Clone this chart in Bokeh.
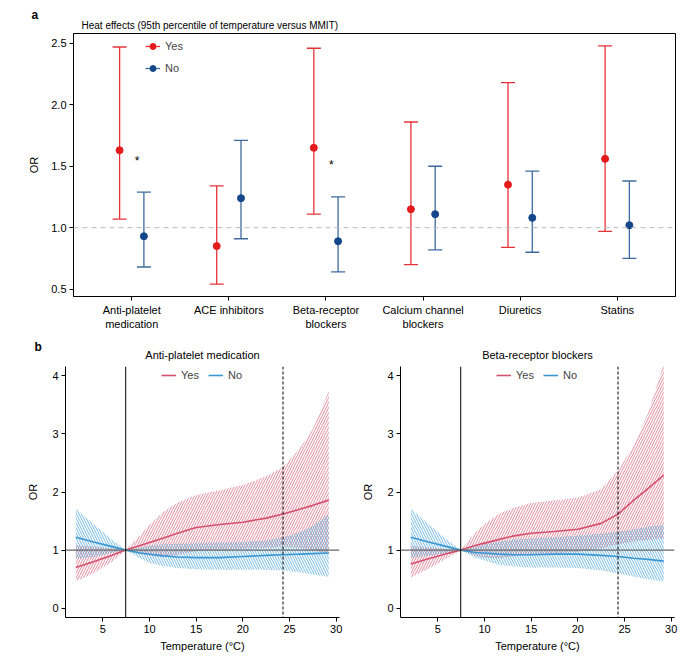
import numpy as np
from bokeh.plotting import figure
from bokeh.models import (Range1d, FixedTicker, Legend, LegendItem, Span, Title)
from bokeh.layouts import column, row
from bokeh.embed import file_html
from bokeh.resources import INLINE

FONT = "Liberation Sans"

# ---------------- Panel a data ----------------
drug_classes = ["Anti-platelet\nmedication", "ACE inhibitors", "Beta-receptor\nblockers",
                "Calcium channel\nblockers", "Diuretics", "Statins"]
yes_or = [1.63, 0.85, 1.65, 1.15, 1.35, 1.56]
yes_lower = [1.07, 0.54, 1.11, 0.70, 0.84, 0.97]
yes_upper = [2.47, 1.34, 2.46, 1.86, 2.18, 2.48]
no_or = [0.93, 1.24, 0.89, 1.11, 1.08, 1.02]
no_lower = [0.68, 0.91, 0.64, 0.82, 0.80, 0.75]
no_upper = [1.29, 1.71, 1.25, 1.50, 1.46, 1.38]
sig_index = [0, 2]
sig_y = [1.54, 1.51]
or_ticks_a = [0.5, 1.0, 1.5, 2.0, 2.5]
null_or = 1.0

# ---------------- Panel b data ----------------
temp = [2.1, 4, 6, 7.45, 9, 10, 11.5, 13, 15, 17.5, 20, 22.5, 24.3, 26, 27.5, 29.2]
mmit = 7.45
temp_p95 = 24.3
temp_ticks = [5, 10, 15, 20, 25, 30]
or_ticks_b = [0, 1, 2, 3, 4]

ap_yes = [0.70, 0.80, 0.91, 1.0, 1.08, 1.13, 1.21, 1.29, 1.39, 1.44, 1.48, 1.55, 1.62, 1.70, 1.77, 1.86]
ap_yes_lo = [0.46, 0.60, 0.80, 1.0, 0.93, 0.90, 0.88, 0.92, 0.98, 1.00, 1.02, 1.04, 1.06, 1.04, 1.00, 0.93]
ap_yes_hi = [1.08, 1.06, 1.03, 1.0, 1.26, 1.43, 1.66, 1.82, 1.95, 2.03, 2.12, 2.27, 2.43, 2.73, 3.08, 3.74]
ap_no = [1.22, 1.14, 1.06, 1.0, 0.95, 0.93, 0.90, 0.88, 0.87, 0.87, 0.89, 0.91, 0.92, 0.93, 0.94, 0.95]
ap_no_lo = [0.85, 0.88, 0.95, 1.0, 0.85, 0.78, 0.72, 0.69, 0.67, 0.66, 0.66, 0.66, 0.65, 0.62, 0.58, 0.54]
ap_no_hi = [1.71, 1.45, 1.18, 1.0, 1.05, 1.08, 1.10, 1.11, 1.12, 1.13, 1.14, 1.17, 1.22, 1.30, 1.42, 1.62]

bb_yes = [0.76, 0.85, 0.94, 1.0, 1.08, 1.12, 1.18, 1.24, 1.29, 1.32, 1.36, 1.46, 1.62, 1.86, 2.06, 2.29]
bb_yes_lo = [0.53, 0.68, 0.86, 1.0, 0.90, 0.87, 0.86, 0.89, 0.92, 0.94, 0.97, 1.03, 1.10, 1.15, 1.18, 1.20]
bb_yes_hi = [1.07, 1.05, 1.02, 1.0, 1.30, 1.45, 1.62, 1.72, 1.81, 1.86, 1.90, 2.05, 2.37, 2.80, 3.35, 4.20]
bb_no = [1.22, 1.14, 1.06, 1.0, 0.96, 0.95, 0.93, 0.92, 0.92, 0.93, 0.93, 0.91, 0.89, 0.86, 0.84, 0.81]
bb_no_lo = [0.87, 0.90, 0.95, 1.0, 0.87, 0.82, 0.75, 0.72, 0.70, 0.70, 0.69, 0.65, 0.60, 0.54, 0.50, 0.46]
bb_no_hi = [1.71, 1.45, 1.18, 1.0, 1.06, 1.10, 1.15, 1.18, 1.20, 1.22, 1.25, 1.28, 1.32, 1.36, 1.40, 1.43]

RED = "#E41A1C"
RED_BAR = "#E5333A"
BLUE = "#13478A"
BLUE_BAR = "#3E6A9E"
B_RED = "#D5506E"
B_RED_H = "#D6687F"
B_BLUE = "#3A97D4"
B_BLUE_H = "#4DA5D8"


def style_axes(p):
    for ax in p.axis:
        ax.major_label_text_font = FONT
        ax.major_label_text_font_size = "11px"
        ax.major_label_text_color = "black"
        ax.axis_label_text_font = FONT
        ax.axis_label_text_font_size = "11px"
        ax.axis_label_text_font_style = "normal"
        ax.axis_label_text_color = "black"
        ax.axis_line_color = "black"
        ax.major_tick_line_color = "black"
        ax.major_tick_out = 4
        ax.major_tick_in = 0
        ax.minor_tick_line_color = None
        ax.major_label_standoff = 3
    p.xgrid.visible = False
    p.ygrid.visible = False


# ---------------- Panel a ----------------
pa = figure(width=699, height=335, frame_width=602, frame_height=263,
            min_border_left=73, min_border_right=24, min_border_top=33, min_border_bottom=39,
            x_range=Range1d(0.4, 6.6), y_range=Range1d(0.44, 2.58),
            output_backend="svg", toolbar_location=None, tools="")
pa.outline_line_color = "black"
pa.outline_line_width = 1
style_axes(pa)

# panel letter (outermost) and panel heading (next to the frame)
pa.title = Title(text="a", align="left", offset=-42, standoff=-6, text_font=FONT,
                 text_font_size="12px", text_font_style="bold", text_color="black")
pa.add_layout(Title(text="Heat effects (95th percentile of temperature versus MMIT)",
                    align="left", vertical_align="top", offset=8, standoff=2, text_font=FONT,
                    text_font_size="10px", text_font_style="normal", text_color="black"), "above")

idx = np.arange(1, len(drug_classes) + 1)
x_yes = idx - 0.125
x_no = idx + 0.125

pa.add_layout(Span(location=null_or, dimension="width", line_color="#BBBBBB",
                   line_dash="5 4", line_width=1))

seg_yes = pa.segment(x0=x_yes, y0=yes_lower, x1=x_yes, y1=yes_upper, line_color=RED_BAR, line_width=1.3)
pa.scatter(x=x_yes, y=yes_upper, marker="dash", size=14, line_color=RED_BAR, line_width=1.3)
pa.scatter(x=x_yes, y=yes_lower, marker="dash", size=14, line_color=RED_BAR, line_width=1.3)
pt_yes = pa.scatter(x=x_yes, y=yes_or, marker="circle", size=7, fill_color=RED, line_color=RED)

seg_no = pa.segment(x0=x_no, y0=no_lower, x1=x_no, y1=no_upper, line_color=BLUE_BAR, line_width=1.3)
pa.scatter(x=x_no, y=no_upper, marker="dash", size=14, line_color=BLUE_BAR, line_width=1.3)
pa.scatter(x=x_no, y=no_lower, marker="dash", size=14, line_color=BLUE_BAR, line_width=1.3)
pt_no = pa.scatter(x=x_no, y=no_or, marker="circle", size=7, fill_color=BLUE, line_color=BLUE)

sig_x = [idx[i] + 0.055 for i in sig_index]
pa.text(x=sig_x, y=sig_y, text=["*"] * len(sig_x), text_font_size="12px",
        text_align="center", text_baseline="middle", text_color="black")

pa.xaxis.ticker = FixedTicker(ticks=[int(i) for i in idx])
pa.xaxis.major_label_overrides = {int(i): lab for i, lab in zip(idx, drug_classes)}
pa.yaxis.ticker = FixedTicker(ticks=or_ticks_a)
pa.yaxis.major_label_overrides = {v: f"{v:.1f}" for v in or_ticks_a}
pa.yaxis.axis_label = "OR"
pa.yaxis.axis_label_standoff = 8

leg_a = Legend(items=[LegendItem(label="Yes", renderers=[seg_yes, pt_yes]),
                      LegendItem(label="No", renderers=[seg_no, pt_no])],
               location=(72, 218), orientation="vertical", padding=0, margin=0, spacing=2,
               glyph_width=15, glyph_height=20, label_height=20, label_standoff=5,
               label_text_font=FONT, label_text_font_size="11px",
               background_fill_alpha=0, border_line_color=None)
pa.add_layout(leg_a)


# ---------------- Panel b ----------------
def make_b(title, y_yes, y_yes_lo, y_yes_hi, y_no, y_no_lo, y_no_hi, bl, br, w, letter):
    p = figure(width=w, height=327, frame_width=274, frame_height=251,
               min_border_left=bl, min_border_right=br, min_border_top=31, min_border_bottom=45,
               x_range=Range1d(1.0, 30.35), y_range=Range1d(-0.16, 4.16),
               output_backend="svg", toolbar_location=None, tools="")
    p.outline_line_color = None
    style_axes(p)
    head = Title(text=title, align="center", vertical_align="top", standoff=7, text_font=FONT,
                 text_font_size="11px", text_font_style="normal", text_color="black")
    if letter:
        p.title = Title(text=letter, align="left", offset=-31, standoff=-17, text_font=FONT,
                        text_font_size="12px", text_font_style="bold", text_color="black")
        p.add_layout(head, "above")
    else:
        p.title = head
    p.varea(x=temp, y1=y_yes_lo, y2=y_yes_hi, fill_alpha=0, hatch_pattern="/",
            hatch_color=B_RED_H, hatch_scale=5, hatch_weight=0.9, hatch_alpha=0.85)
    p.varea(x=temp, y1=y_no_lo, y2=y_no_hi, fill_alpha=0, hatch_pattern="\\",
            hatch_color=B_BLUE_H, hatch_scale=5, hatch_weight=0.9, hatch_alpha=0.85)
    p.add_layout(Span(location=null_or, dimension="width", line_color="#666666", line_width=1.2))
    p.add_layout(Span(location=mmit, dimension="height", line_color="black", line_width=1))
    p.add_layout(Span(location=temp_p95, dimension="height", line_color="black",
                      line_width=1, line_dash="3 2"))
    ly = p.line(x=temp, y=y_yes, line_color=B_RED, line_width=1.6)
    ln = p.line(x=temp, y=y_no, line_color=B_BLUE, line_width=1.6)
    p.xaxis.ticker = FixedTicker(ticks=temp_ticks)
    p.yaxis.ticker = FixedTicker(ticks=or_ticks_b)
    p.xaxis.axis_label = "Temperature (°C)"
    p.xaxis.axis_label_standoff = 4
    p.yaxis.axis_label = "OR"
    p.yaxis.axis_label_standoff = 10
    leg = Legend(items=[LegendItem(label="Yes", renderers=[ly]),
                        LegendItem(label="No", renderers=[ln])],
                 location=(96, 234), orientation="horizontal", padding=0, margin=0, spacing=7,
                 glyph_width=15, glyph_height=16, label_height=16, label_standoff=5,
                 label_text_font=FONT, label_text_font_size="11px",
                 background_fill_alpha=0, border_line_color=None)
    p.add_layout(leg)
    return p


pb1 = make_b("Anti-platelet medication", ap_yes, ap_yes_lo, ap_yes_hi,
             ap_no, ap_no_lo, ap_no_hi, 65, 6, 345, "b")
pb2 = make_b("Beta-receptor blockers", bb_yes, bb_yes_lo, bb_yes_hi,
             bb_no, bb_no_lo, bb_no_hi, 55, 25, 354, None)

layout = column(pa, row(pb1, pb2, spacing=0), spacing=0)
open("out.html", "w").write(file_html(layout, INLINE))
